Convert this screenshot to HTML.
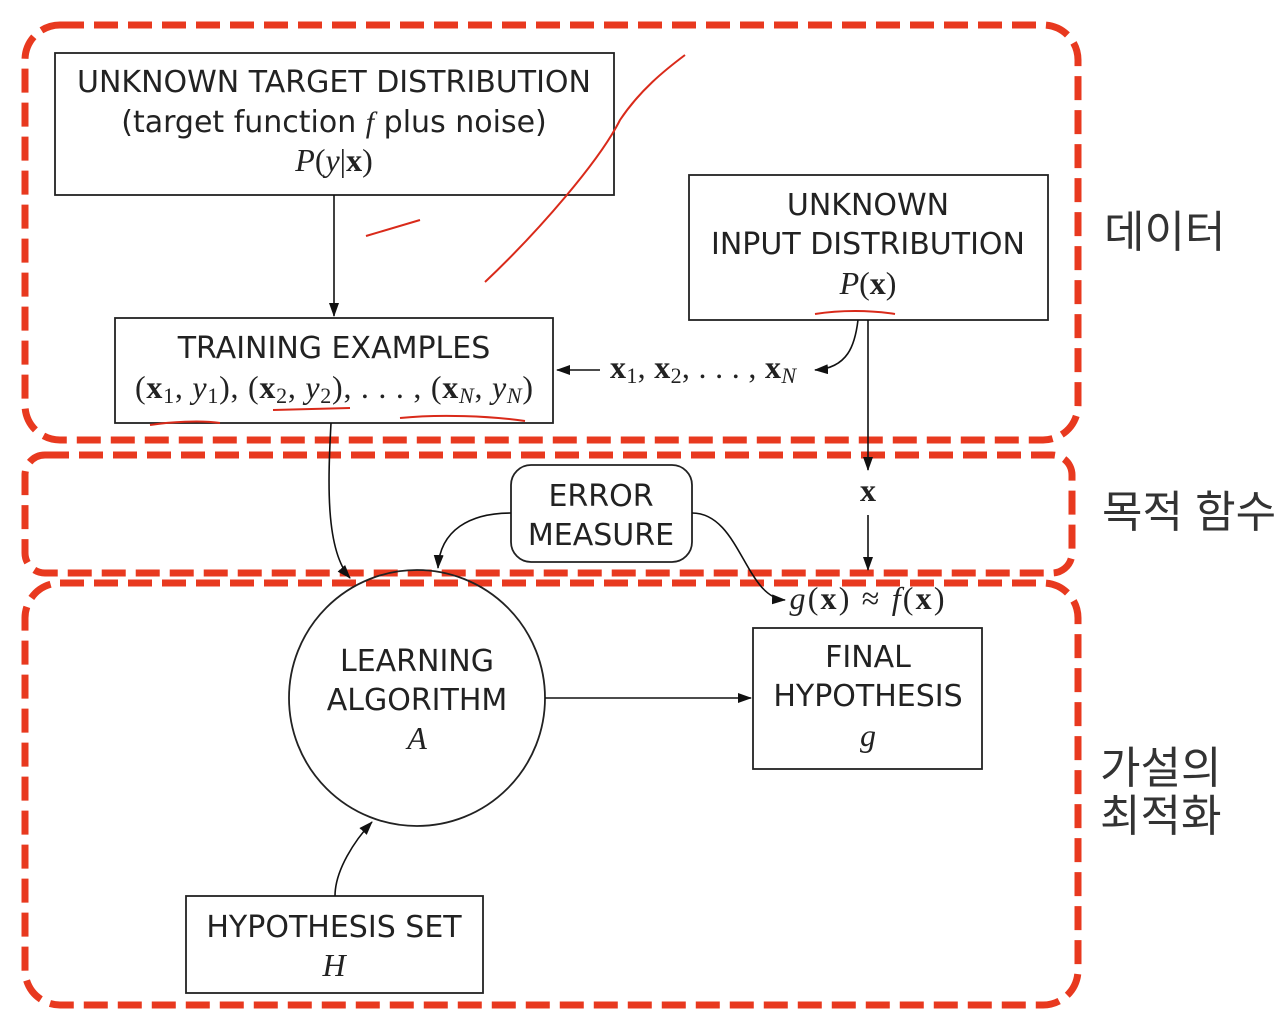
<!DOCTYPE html>
<html><head><meta charset="utf-8"><style>
body{margin:0;background:#fff;}
svg{display:block}
.t{font-family:"DejaVu Sans","Liberation Sans",sans-serif;font-size:30px;fill:#222;text-anchor:middle}
.m{font-family:"Liberation Serif",serif;font-size:32px;fill:#222;text-anchor:middle}
.k{font-family:"Liberation Sans","Noto Sans CJK KR",sans-serif;font-size:44px;fill:#333}
</style></head><body>
<svg width="1284" height="1030" viewBox="0 0 1284 1030" xmlns="http://www.w3.org/2000/svg">
<defs><marker id="a" markerWidth="14" markerHeight="10" refX="13" refY="5" orient="auto" markerUnits="userSpaceOnUse"><path d="M0,0 L14,5 L0,10 z" fill="#111"/></marker></defs>
<g fill="none" stroke="#e8391f" stroke-width="7" stroke-dasharray="24,10">
<rect x="25" y="25" width="1053" height="415" rx="35"/>
<rect x="25" y="455" width="1047" height="118" rx="20"/>
<rect x="25" y="583" width="1053" height="422" rx="35"/>
</g>
<g fill="none" stroke="#222" stroke-width="1.8">
<rect x="55" y="53" width="559" height="142"/>
<rect x="689" y="175" width="359" height="145"/>
<rect x="115" y="318" width="438" height="105"/>
<rect x="511" y="465" width="181" height="97" rx="20"/>
<circle cx="417" cy="698" r="128"/>
<rect x="753" y="628" width="229" height="141"/>
<rect x="186" y="896" width="297" height="97"/>
</g>
<g fill="none" stroke="#111" stroke-width="1.6">
<line x1="334" y1="195" x2="334" y2="316" marker-end="url(#a)"/>
<line x1="600" y1="370" x2="557" y2="370" marker-end="url(#a)"/>
<path d="M858,320 C855,345 848,368 815,370" marker-end="url(#a)"/>
<line x1="868" y1="320" x2="868" y2="470" marker-end="url(#a)"/>
<line x1="868" y1="515" x2="868" y2="570" marker-end="url(#a)"/>
<path d="M331,423 C328,480 325,550 350,578" marker-end="url(#a)"/>
<path d="M511,513 C470,513 440,530 438,568" marker-end="url(#a)"/>
<path d="M692,513 C740,513 745,598 785,600" marker-end="url(#a)"/>
<line x1="545" y1="698" x2="751" y2="698" marker-end="url(#a)"/>
<path d="M335,896 C335,870 355,840 372,822" marker-end="url(#a)"/>
</g>
<g fill="none" stroke="#d92a1a" stroke-width="2">
<path d="M485,282 C540,230 600,160 620,120 C640,90 665,70 685,55"/>
<path d="M366,236 L420,220"/>
<path d="M815,314 C840,310 870,310 895,314"/>
<path d="M150,425 C170,422 200,420 220,423"/>
<path d="M273,410 L350,408"/>
<path d="M400,418 C440,414 490,416 525,421"/>
</g>
<text class="t" x="334" y="92">UNKNOWN TARGET DISTRIBUTION</text>
<text class="t" x="334" y="132">(target function <tspan font-family="Liberation Serif" font-style="italic">f</tspan> plus noise)</text>
<text class="m" x="334" y="171"><tspan font-style="italic">P</tspan>(<tspan font-style="italic">y</tspan>|<tspan font-weight="bold">x</tspan>)</text>
<text class="t" x="868" y="215">UNKNOWN</text>
<text class="t" x="868" y="254">INPUT DISTRIBUTION</text>
<text class="m" x="868" y="294"><tspan font-style="italic">P</tspan>(<tspan font-weight="bold">x</tspan>)</text>
<text class="t" x="334" y="358">TRAINING EXAMPLES</text>
<text class="m" x="334" y="398" textLength="398" lengthAdjust="spacing">(<tspan font-weight="bold">x</tspan><tspan font-size="22" dy="5">1</tspan><tspan dy="-5">, </tspan><tspan font-style="italic">y</tspan><tspan font-size="22" dy="5">1</tspan><tspan dy="-5">), (</tspan><tspan font-weight="bold">x</tspan><tspan font-size="22" dy="5">2</tspan><tspan dy="-5">, </tspan><tspan font-style="italic">y</tspan><tspan font-size="22" dy="5">2</tspan><tspan dy="-5">), . . . , (</tspan><tspan font-weight="bold">x</tspan><tspan font-size="22" font-style="italic" dy="5">N</tspan><tspan dy="-5">, </tspan><tspan font-style="italic">y</tspan><tspan font-size="22" font-style="italic" dy="5">N</tspan><tspan dy="-5">)</tspan></text>
<text class="m" x="703" y="378" textLength="186" lengthAdjust="spacing"><tspan font-weight="bold">x</tspan><tspan font-size="22" dy="5">1</tspan><tspan dy="-5">, </tspan><tspan font-weight="bold">x</tspan><tspan font-size="22" dy="5">2</tspan><tspan dy="-5">, . . . , </tspan><tspan font-weight="bold">x</tspan><tspan font-size="22" font-style="italic" dy="5">N</tspan></text>
<text class="m" x="868" y="501" font-weight="bold">x</text>
<text class="t" x="601" y="506">ERROR</text>
<text class="t" x="601" y="545">MEASURE</text>
<text class="m" x="867" y="609" textLength="155" lengthAdjust="spacing"><tspan font-style="italic">g</tspan>(<tspan font-weight="bold">x</tspan>) ≈ <tspan font-style="italic">f</tspan>(<tspan font-weight="bold">x</tspan>)</text>
<text class="t" x="417" y="671">LEARNING</text>
<text class="t" x="417" y="710">ALGORITHM</text>
<text class="m" x="417" y="749" font-style="italic">A</text>
<text class="t" x="868" y="667">FINAL</text>
<text class="t" x="868" y="706">HYPOTHESIS</text>
<text class="m" x="868" y="746" font-style="italic">g</text>
<text class="t" x="334" y="937">HYPOTHESIS SET</text>
<text class="m" x="334" y="976" font-style="italic">H</text>
<text class="k" x="1104" y="247">데이터</text>
<text class="k" x="1102" y="527">목적 함수</text>
<text class="k" x="1100" y="783">가설의</text>
<text class="k" x="1100" y="831">최적화</text>
</svg>
</body></html>
